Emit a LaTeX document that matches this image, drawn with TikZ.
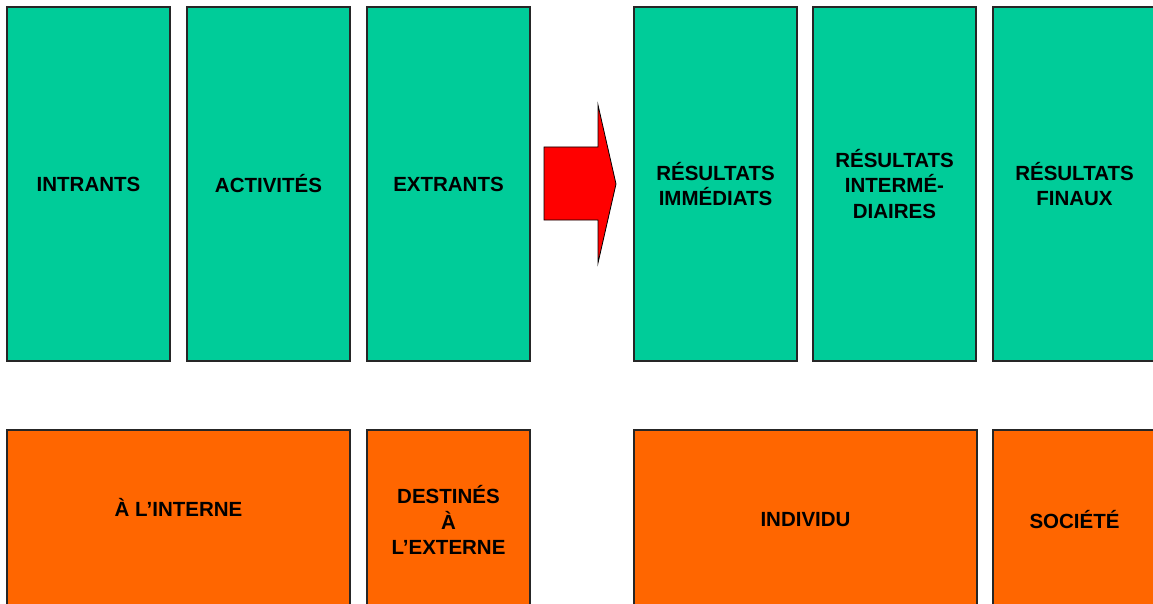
\documentclass[tikz,border=0pt]{standalone}
\usepackage{fontspec}
\setmainfont{Liberation Sans}
\usetikzlibrary{positioning}
\definecolor{vert}{RGB}{0,204,153}
\definecolor{orangebox}{RGB}{255,102,0}
\begin{document}
\begin{tikzpicture}[x=1pt,y=-1pt, font=\bfseries\fontsize{20.5}{25.5}\selectfont, line join=miter]
	\tikzset{box/.style={draw=black!85, line width=1.3pt, inner sep=0pt, outer sep=0pt, align=center, minimum width=163pt},
		topbox/.style={box, fill=vert, minimum height=354pt},
		lowbox/.style={box, fill=orangebox, minimum height=180pt}}
	\def \gap{17pt}\def \rowgap{69pt}
	\useasboundingbox (0,0) rectangle (1153,604);
	\clip (0,0) rectangle (1153,604);
	% rangee du haut
	\node[topbox] (intrants) at (88.5,184) {INTRANTS};
	\node[topbox, right=\gap of intrants] (activites) {ACTIVITÉS};
	\node[topbox, right=\gap of activites] (extrants) {EXTRANTS};
	\node[topbox, right=104pt of extrants] (immediats) {RÉSULTATS\\IMMÉDIATS};
	\node[topbox, right=16pt of immediats] (intermediaires) {RÉSULTATS\\INTERMÉ-\\DIAIRES};
	\node[topbox, right=\gap of intermediaires] (finaux) {RÉSULTATS\\FINAUX};
	% rangee du bas
	\node[lowbox, minimum width=343pt, below right=\rowgap and 0pt of intrants.south west,
		label={[yshift=13pt]center:À L’INTERNE}] (interne) {};
	\node[lowbox, below=\rowgap of extrants] (externe) {DESTINÉS\\À\\L’EXTERNE};
	\node[lowbox, minimum width=343pt, below right=\rowgap and 0pt of immediats.south west] (individu) {INDIVIDU};
	\node[lowbox, below=\rowgap of finaux] (societe) {SOCIÉTÉ};
	% fleche
	\coordinate (pointe) at (616,184);
	\filldraw[fill=red, draw=black, line width=0.8pt]
		(544,147) -- (598,147) -- (598,105) -- (pointe) -- (598,263) -- (598,220) -- (544,220) -- cycle;
\end{tikzpicture}
\end{document}
